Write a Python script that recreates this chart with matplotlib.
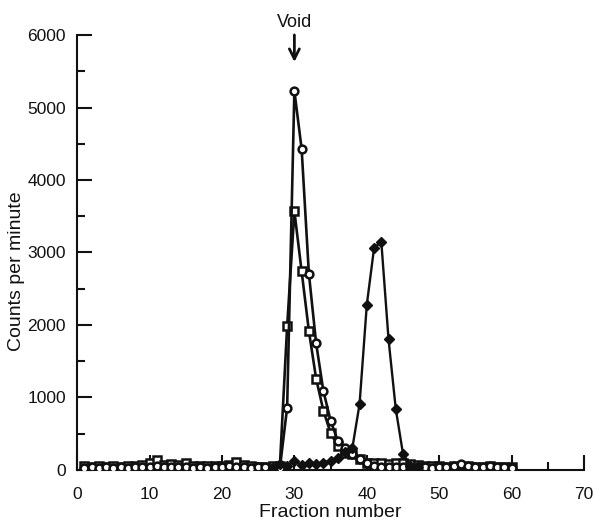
import matplotlib.pyplot as plt
import numpy as np

# fractions and counts
frac_open = np.arange(1, 61)
cpm_circles = np.array([
    30, 35, 30, 40, 30, 35, 30, 40, 45, 40,      # 1-10
    50, 40, 45, 40, 35, 30, 35, 30, 40, 45,      # 11-20
    50, 45, 35, 30, 35, 40, 30, 30, 860, 5230,   # 21-30
    4430, 2710, 1750, 1090, 680, 400, 300, 220, 150, 100,  # 31-40
    60, 40, 45, 40, 35, 40, 45, 35, 30, 40,      # 41-50
    45, 50, 80, 50, 40, 45, 60, 45, 35, 30])     # 51-60

cpm_squares = np.array([
    50, 45, 50, 45, 50, 45, 50, 55, 70, 90,
    140, 70, 80, 70, 90, 60, 50, 55, 50, 60,
    70, 110, 70, 50, 45, 45, 50, 60, 1980, 3570,
    2740, 1920, 1260, 820, 510, 330, 240, 220, 150, 100,
    90, 100, 80, 90, 100, 80, 70, 60, 55, 50,
    45, 50, 45, 50, 45, 45, 50, 45, 45, 40])

frac_filled = np.arange(27, 48)
cpm_diamonds = np.array([
    30, 80, 60, 120, 70, 90, 80, 100, 130, 170,
    250, 300, 910, 2280, 3060, 3150, 1800, 840, 220, 60, 40])

ink = '#111111'
plt.rcParams['font.family'] = ['Liberation Sans', 'DejaVu Sans']

fig = plt.figure(figsize=(5.93, 5.31), dpi=100)
ax = fig.add_axes([0.130, 0.115, 0.855, 0.819])

ax.plot(frac_open, cpm_squares, color=ink, lw=1.9, marker='s', ms=5.5,
        mfc='white', mec=ink, mew=1.8, zorder=2)
ax.plot(frac_open, cpm_circles, color=ink, lw=1.9, marker='o', ms=5.6,
        mfc='white', mec=ink, mew=1.8, zorder=3)
ax.plot(frac_filled, cpm_diamonds, color=ink, lw=1.7, marker='D', ms=5,
        mfc=ink, mec=ink, zorder=4)

ax.set_xlim(0, 70)
ax.set_ylim(0, 6000)
ax.set_xticks(np.arange(0, 71, 10))
ax.set_xticks(np.arange(5, 70, 10), minor=True)
ax.set_yticks(np.arange(0, 6001, 1000))
ax.set_yticks(np.arange(500, 6000, 1000), minor=True)

for s in ['top', 'right']:
    ax.spines[s].set_visible(False)
for s in ['left', 'bottom']:
    ax.spines[s].set_linewidth(1.5)
    ax.spines[s].set_color(ink)

ax.tick_params(which='major', direction='in', length=11, width=1.5,
               labelsize=12.5, colors=ink, pad=8)
ax.tick_params(which='minor', direction='in', length=6, width=1.5, colors=ink)
ax.tick_params(axis='x', which='major', pad=12)

ax.set_xlabel('Fraction number', fontsize=14, color=ink, labelpad=2)
ax.set_ylabel('Counts per minute', fontsize=14, color=ink)
ax.yaxis.set_label_coords(-0.103, 0.458)

ax.text(30, 6170, 'Void', ha='center', va='center', fontsize=13, color=ink,
        clip_on=False)
ax.annotate('', xy=(30, 5590), xytext=(30, 6040), annotation_clip=False,
            arrowprops=dict(arrowstyle='->', lw=2, color=ink,
                            mutation_scale=18))

fig.savefig('out.png', dpi=100)
